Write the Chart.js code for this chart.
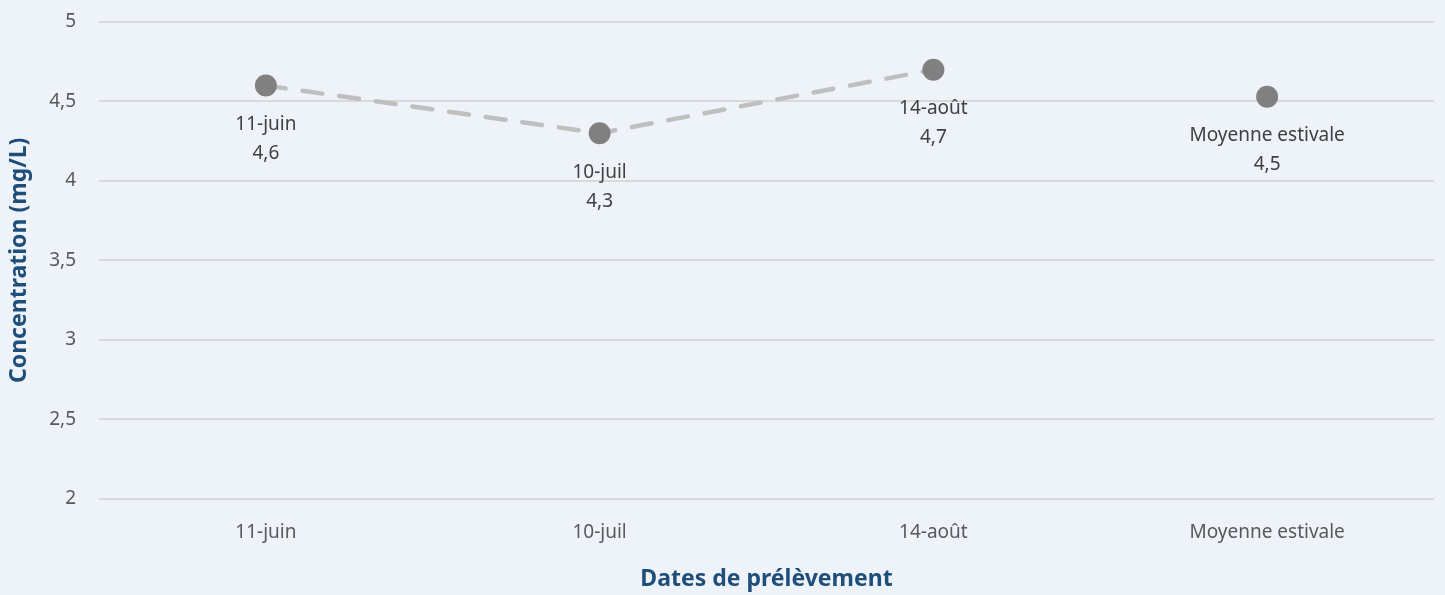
<!DOCTYPE html>
<html>
<head>
<meta charset="utf-8">
<script src="https://cdn.jsdelivr.net/npm/chart.js@4.4.1/dist/chart.umd.min.js"></script>
<style>
    html, body { margin: 0; padding: 0; background: #eef3fa; }
    #wrap { width: 1445px; height: 595px; }
</style>
</head>
<body>
<div id="wrap"><canvas id="myChart"></canvas></div>
<script>
const dates = ['11-juin', '10-juil', '14-août', 'Moyenne estivale'];
const concentrations = [4.6, 4.3, 4.7, 4.53];
const yTicks = [2, 2.5, 3, 3.5, 4, 4.5, 5];

const fmt = v => String(v).replace('.', ',');

// labels under each point: date + value
const pointLabels = {
    id: 'pointLabels',
    afterDatasetsDraw(chart) {
        const ctx = chart.ctx;
        const meta = chart.getDatasetMeta(0);
        ctx.save();
        ctx.font = '19px "Noto Sans"';
        ctx.fillStyle = '#404040';
        ctx.textAlign = 'center';
        ctx.textBaseline = 'middle';
        meta.data.forEach((pt, i) => {
            ctx.fillText(dates[i], pt.x, pt.y + 39);
            ctx.fillText(concentrations[i].toFixed(1).replace('.', ','), pt.x, pt.y + 68);
        });
        ctx.restore();
    }
};

const ctx = document.getElementById('myChart').getContext('2d');
new Chart(ctx, {
    type: 'line',
    data: {
        labels: dates,
        datasets: [{
            data: concentrations,
            borderColor: '#bfbfbf',
            borderWidth: 4.5,
            borderDash: [20, 17],
            borderCapStyle: 'round',
            pointRadius: 11,
            pointHoverRadius: 11,
            pointBackgroundColor: '#808080',
            pointBorderColor: '#808080',
            pointBorderWidth: 0,
            segment: {
                borderColor: c => c.p1DataIndex === 3 ? 'transparent' : undefined
            }
        }]
    },
    options: {
        responsive: true,
        maintainAspectRatio: false,
        animation: false,
        layout: { padding: { top: 22, right: 10, left: 6, bottom: 2 } },
        plugins: {
            legend: { display: false },
            tooltip: { enabled: false }
        },
        scales: {
            x: {
                offset: true,
                grid: { display: false },
                border: { display: false },
                ticks: { color: '#595959', font: { family: 'Noto Sans', size: 19 }, padding: 15 },
                title: {
                    display: true,
                    text: 'Dates de prélèvement',
                    color: '#1f4e79',
                    font: { family: 'Noto Sans', size: 23, weight: 'bold' },
                    padding: { top: 6, bottom: 0 }
                }
            },
            y: {
                min: 2,
                max: 5,
                afterBuildTicks: axis => { axis.ticks = yTicks.map(v => ({ value: v })); },
                afterFit: axis => {
                    axis.width = 93;
                    axis.paddingTop = 0;
                    axis.paddingBottom = 0;
                },
                grid: { color: '#d9d9d9', lineWidth: 2, drawTicks: false },
                border: { display: false },
                ticks: {
                    color: '#595959',
                    font: { family: 'Noto Sans', size: 19 },
                    padding: 23,
                    callback: v => fmt(v)
                },
                title: {
                    display: true,
                    text: 'Concentration (mg/L)',
                    color: '#1f4e79',
                    font: { family: 'Noto Sans', size: 23, weight: 'bold' },
                    padding: { top: 0, bottom: 0 }
                }
            }
        }
    },
    plugins: [pointLabels]
});
</script>
</body>
</html>
